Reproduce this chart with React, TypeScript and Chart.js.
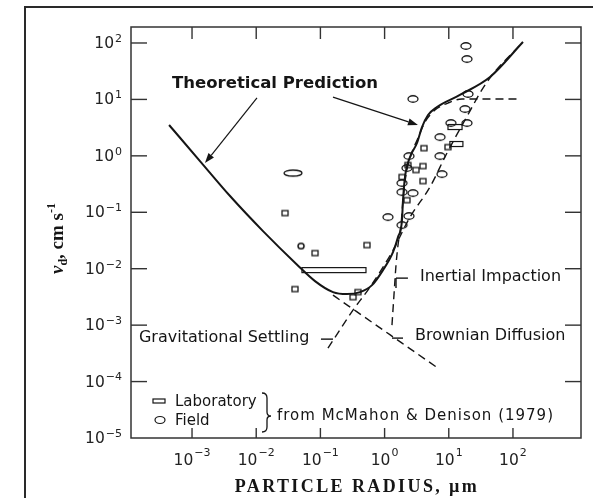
import React, { useEffect, useRef } from "react";
import { Chart, registerables } from "chart.js";

Chart.register(...registerables);

// ---------- axis ranges and ticks ----------
const X_MIN = 1.12e-4;
const X_MAX = 1148;
const Y_MIN = 1e-5;
const Y_MAX = 192;
const xTickExps = [-3, -2, -1, 0, 1, 2];
const yTickExps = [-5, -4, -3, -2, -1, 0, 1, 2];

// ---------- curves ----------
const theoryX = [4.39e-4, 1.33e-3, 3.91e-3, 0.01276, 0.0433, 0.0824, 0.157, 0.259, 0.414, 0.637, 0.944, 1.352, 1.618, 1.867, 1.936, 2.08, 2.49, 3.2, 3.83, 4.75, 6.55, 14.9, 43.9, 143];
const theoryY = [3.52, 0.809, 0.194, 0.0464, 0.0118, 0.00603, 0.00385, 0.00355, 0.00385, 0.00512, 0.00944, 0.0197, 0.0363, 0.0727, 0.164, 0.421, 0.953, 1.69, 3.24, 5.29, 7.33, 12.0, 24.9, 104];

const gravX = [0.1312, 0.322, 0.593, 1.303, 2.49, 5.09, 9.38, 17.9, 39.4, 143];
const gravY = [3.91e-4, 1.845e-3, 4.72e-3, 0.0197, 0.0822, 0.28, 1.122, 4.32, 20.4, 104];

const inertX = [1.303, 1.4, 1.506, 1.618, 1.8, 1.936, 2.15, 2.58, 3.31, 4.26, 6.09, 9.72, 16.1, 128.5];
const inertY = [1.0e-3, 3.4e-3, 0.01159, 0.0262, 0.0593, 0.164, 0.457, 1.03, 2.07, 3.97, 6.49, 8.63, 10.2, 10.2];

const brownX = [0.157, 6.79];
const brownY = [3.4e-3, 1.73e-4];

// ---------- observations (McMahon & Denison 1979) ----------
const fieldX = [18.5, 19.2, 2.77, 19.9, 17.9, 10.8, 19.2, 7.3, 7.3, 7.83, 2.4, 2.23, 1.87, 2.77, 1.87, 2.4, 1.13, 1.87];
const fieldY = [88.5, 52, 10.2, 12.5, 6.76, 3.82, 3.82, 2.15, 0.99, 0.475, 0.99, 0.608, 0.33, 0.219, 0.228, 0.0857, 0.0822, 0.0593];
const fieldSmallX = [0.0499];
const fieldSmallY = [0.0252];
const fieldWideX = [0.0374];
const fieldWideY = [0.495];

const labX = [0.0281, 0.0824, 0.532, 0.0402, 0.322, 0.385, 4.11, 3.96, 3.08, 2.31, 3.96, 1.87, 2.23, 9.72];
const labY = [0.0968, 0.0189, 0.0262, 0.00435, 0.00313, 0.00385, 1.37, 0.659, 0.56, 0.687, 0.357, 0.421, 0.164, 1.43];
const labRangeLo = [0.0516, 9.72, 10.4];
const labRangeHi = [0.513, 16.1, 16.6];
const labRangeY = [0.00944, 3.24, 1.62];

// ---------- annotations (data coordinates) ----------
const arrowFromX = [0.01028, 0.157];
const arrowFromY = [10.6, 11.0];
const arrowToX = [1.59e-3, 3.31];
const arrowToY = [0.745, 3.52];

const labelTexts = ["Theoretical Prediction", "Inertial Impaction", "Brownian Diffusion", "Gravitational Settling"];
const labelX = [4.88e-4, 3.56, 2.98, 1.49e-4];
const labelY = [18.7, 7.1e-3, 6.38e-4, 5.89e-4];

// leader segments: x0,y0,x1,y1
const leaderX0 = [1.506, 1.506, 1.303, 0.102];
const leaderY0 = [6.81e-3, 6.81e-3, 5.89e-4, 5.65e-4];
const leaderX1 = [2.31, 1.506, 1.936, 0.157];
const leaderY1 = [6.81e-3, 4.53e-3, 5.89e-4, 5.65e-4];

const INK = "#151515";
const SANS = '"DejaVu Sans", sans-serif';
const SERIF = '"Liberation Serif", serif';

const zip = (xs: number[], ys: number[]) => xs.map((x, i) => ({ x, y: ys[i] }));

function makeEllipse(w: number, h: number, lw: number) {
  const c = document.createElement("canvas");
  c.width = w + 4;
  c.height = h + 4;
  const g = c.getContext("2d")!;
  g.strokeStyle = INK;
  g.lineWidth = lw;
  g.beginPath();
  g.ellipse(c.width / 2, c.height / 2, w / 2, h / 2, 0, 0, Math.PI * 2);
  g.stroke();
  return c;
}
function makeRect(w: number, h: number, lw: number) {
  const c = document.createElement("canvas");
  c.width = w + 4;
  c.height = h + 4;
  const g = c.getContext("2d")!;
  g.strokeStyle = INK;
  g.lineWidth = lw;
  g.strokeRect(2, 2, w, h);
  return c;
}

function drawPow(ctx: CanvasRenderingContext2D, exp: number, cx: number, cy: number, mode: "x" | "y") {
  const base = "10";
  const sup = exp < 0 ? "\u2212" + Math.abs(exp) : String(exp);
  ctx.font = `15.5px ${SANS}`;
  const wb = ctx.measureText(base).width;
  ctx.font = `11px ${SANS}`;
  const ws = ctx.measureText(sup).width;
  const total = wb + 1 + ws;
  const start = mode === "x" ? cx - total / 2 : cx - total;
  ctx.textAlign = "left";
  ctx.textBaseline = "middle";
  ctx.font = `15.5px ${SANS}`;
  ctx.fillText(base, start, cy);
  ctx.font = `11px ${SANS}`;
  ctx.fillText(sup, start + wb + 1, cy - (mode === "x" ? 8 : 5));
}

function line(ctx: CanvasRenderingContext2D, x0: number, y0: number, x1: number, y1: number) {
  ctx.beginPath();
  ctx.moveTo(x0, y0);
  ctx.lineTo(x1, y1);
  ctx.stroke();
}

const overlay = {
  id: "overlay",
  beforeDraw(chart: any) {
    const { ctx } = chart;
    ctx.save();
    ctx.fillStyle = "#ffffff";
    ctx.fillRect(0, 0, chart.width, chart.height);
    ctx.restore();
  },
  afterDraw(chart: any) {
    const { ctx, chartArea: a } = chart;
    const sx = chart.scales.x;
    const sy = chart.scales.y;
    const X = (v: number) => sx.getPixelForValue(v);
    const Y = (v: number) => sy.getPixelForValue(v);
    ctx.save();

    // lab range boxes
    ctx.strokeStyle = INK;
    ctx.lineWidth = 1.2;
    labRangeLo.forEach((lo, i) => {
      const x0 = X(lo);
      const x1 = X(labRangeHi[i]);
      const yc = Y(labRangeY[i]);
      ctx.strokeRect(x0, yc - 2.5, x1 - x0, 5);
    });

    // outer frame of the figure
    ctx.strokeStyle = "#2a2a2a";
    ctx.lineWidth = 2;
    ctx.beginPath();
    ctx.moveTo(25, chart.height);
    ctx.lineTo(25, 7);
    ctx.lineTo(chart.width, 7);
    ctx.stroke();

    // plot frame
    ctx.strokeStyle = "#333";
    ctx.lineWidth = 1.5;
    ctx.strokeRect(a.left, a.top, a.right - a.left, a.bottom - a.top);

    // ticks and labels
    ctx.fillStyle = "#222";
    ctx.lineWidth = 1.4;
    yTickExps.forEach((e) => {
      const py = Y(Math.pow(10, e));
      if (e > -5) {
        line(ctx, a.left, py, a.left + 16, py);
        line(ctx, a.right - 16, py, a.right, py);
      }
      drawPow(ctx, e, a.left - 9, py + 1, "y");
    });
    xTickExps.forEach((e) => {
      const px = X(Math.pow(10, e));
      line(ctx, px, a.bottom, px, a.bottom - 10);
      line(ctx, px, a.top, px, a.top + 12);
      drawPow(ctx, e, px, a.bottom + 23, "x");
    });

    // axis titles
    ctx.fillStyle = INK;
    ctx.textAlign = "center";
    ctx.textBaseline = "alphabetic";
    ctx.font = `bold 18px ${SERIF}`;
    (ctx as any).letterSpacing = "2.4px";
    ctx.fillText("PARTICLE RADIUS, \u00b5m", (a.left + a.right) / 2 + 1, a.bottom + 54);
    (ctx as any).letterSpacing = "0px";

    // y title: v_d, cm s^-1 (rotated)
    ctx.save();
    const parts: [string, string, number][] = [
      ["v", `italic bold 19px ${SERIF}`, 0],
      ["d", `bold 12px ${SERIF}`, 4],
      [", cm s", `bold 19px ${SERIF}`, 0],
      ["-1", `bold 12px ${SERIF}`, -8],
    ];
    let total = 0;
    const widths = parts.map(([t, f]) => {
      ctx.font = f;
      const w = ctx.measureText(t).width;
      total += w;
      return w;
    });
    ctx.translate(63, (a.top + a.bottom) / 2 + 6 + total / 2);
    ctx.rotate(-Math.PI / 2);
    ctx.textAlign = "left";
    let cx = 0;
    parts.forEach(([t, f, dy], i) => {
      ctx.font = f;
      ctx.fillText(t, cx, dy);
      cx += widths[i];
    });
    ctx.restore();

    // annotation labels
    ctx.textAlign = "left";
    ctx.textBaseline = "middle";
    labelTexts.forEach((t, i) => {
      ctx.font = i === 0 ? `bold 16.5px ${SANS}` : `16px ${SANS}`;
      ctx.fillText(t, X(labelX[i]), Y(labelY[i]));
    });

    // leader lines
    ctx.strokeStyle = INK;
    ctx.lineWidth = 1.4;
    leaderX0.forEach((x0, i) => {
      line(ctx, X(x0), Y(leaderY0[i]), X(leaderX1[i]), Y(leaderY1[i]));
    });

    // arrows
    ctx.lineWidth = 1.2;
    arrowFromX.forEach((fx, i) => {
      const x0 = X(fx), y0 = Y(arrowFromY[i]);
      const x1 = X(arrowToX[i]), y1 = Y(arrowToY[i]);
      const ang = Math.atan2(y1 - y0, x1 - x0);
      const L = 10, W = 3.5;
      const bx = x1 - L * Math.cos(ang), by = y1 - L * Math.sin(ang);
      line(ctx, x0, y0, bx, by);
      ctx.beginPath();
      ctx.moveTo(x1, y1);
      ctx.lineTo(bx + W * Math.sin(ang), by - W * Math.cos(ang));
      ctx.lineTo(bx - W * Math.sin(ang), by + W * Math.cos(ang));
      ctx.closePath();
      ctx.fill();
    });

    // legend block (bottom-left)
    const lx = a.left, lb = a.bottom;
    ctx.lineWidth = 1.2;
    ctx.strokeRect(lx + 22, lb - 39, 12, 4);
    ctx.beginPath();
    ctx.ellipse(lx + 29, lb - 18, 5, 3.5, 0, 0, Math.PI * 2);
    ctx.stroke();
    ctx.font = `15px ${SANS}`;
    ctx.textBaseline = "middle";
    ctx.fillText("Laboratory", lx + 44, lb - 36);
    ctx.fillText("Field", lx + 44, lb - 17);
    // brace
    const bx0 = lx + 131, top = lb - 45, bot = lb - 6, mid = lb - 22;
    ctx.lineWidth = 1.3;
    ctx.beginPath();
    ctx.moveTo(bx0, top);
    ctx.quadraticCurveTo(bx0 + 5, top, bx0 + 5, top + 5);
    ctx.lineTo(bx0 + 5, mid - 4);
    ctx.quadraticCurveTo(bx0 + 5, mid, bx0 + 9, mid);
    ctx.quadraticCurveTo(bx0 + 5, mid, bx0 + 5, mid + 4);
    ctx.lineTo(bx0 + 5, bot - 5);
    ctx.quadraticCurveTo(bx0 + 5, bot, bx0, bot);
    ctx.stroke();
    (ctx as any).letterSpacing = "1px";
    ctx.fillText("from McMahon & Denison (1979)", lx + 146, lb - 22);
    (ctx as any).letterSpacing = "0px";

    ctx.restore();
  },
};

export default function App() {
  const ref = useRef<HTMLCanvasElement>(null);
  useEffect(() => {
    const canvas = ref.current;
    if (!canvas) return;
    const ovalIcon = makeEllipse(10, 6.5, 1.3);
    const smallOvalIcon = makeEllipse(6, 5.5, 1.5);
    const wideOvalIcon = makeEllipse(18, 6, 1.3);
    const squareIcon = makeRect(6, 5, 1.3);
    const lineDs = (label: string, xs: number[], ys: number[], dash: number[], width: number) => ({
      label,
      data: zip(xs, ys),
      showLine: true,
      borderColor: INK,
      borderWidth: width,
      borderDash: dash,
      pointRadius: 0,
      fill: false,
      cubicInterpolationMode: "monotone" as const,
    });
    const ptDs = (label: string, xs: number[], ys: number[], icon: HTMLCanvasElement) => ({
      label,
      data: zip(xs, ys),
      showLine: false,
      pointStyle: icon,
      pointRadius: 4,
      borderColor: INK,
      backgroundColor: INK,
    });
    const chart = new Chart(canvas, {
      type: "scatter",
      data: {
        datasets: [
          lineDs("Theoretical Prediction", theoryX, theoryY, [], 2),
          ptDs("Field", fieldX, fieldY, ovalIcon),
          ptDs("Field (small)", fieldSmallX, fieldSmallY, smallOvalIcon),
          ptDs("Field (wide)", fieldWideX, fieldWideY, wideOvalIcon),
          ptDs("Laboratory", labX, labY, squareIcon),
          lineDs("Gravitational Settling", gravX, gravY, [8, 5], 1.4),
          lineDs("Inertial Impaction", inertX, inertY, [8, 5], 1.4),
          lineDs("Brownian Diffusion", brownX, brownY, [8, 5], 1.4),
        ] as any,
      },
      options: {
        responsive: false,
        animation: false,
        events: [],
        layout: { padding: { left: 131, top: 27, right: 12, bottom: 60 } },
        plugins: { legend: { display: false }, tooltip: { enabled: false } },
        scales: {
          x: { type: "logarithmic", min: X_MIN, max: X_MAX, display: false },
          y: { type: "logarithmic", min: Y_MIN, max: Y_MAX, display: false },
        },
      },
      plugins: [overlay],
    });
    return () => chart.destroy();
  }, []);
  return (
    <div style={{ position: "fixed", left: 0, top: 0, width: 593, height: 498, background: "#fff" }}>
      <canvas ref={ref} width={593} height={498} style={{ width: 593, height: 498, display: "block" }} />
    </div>
  );
}
